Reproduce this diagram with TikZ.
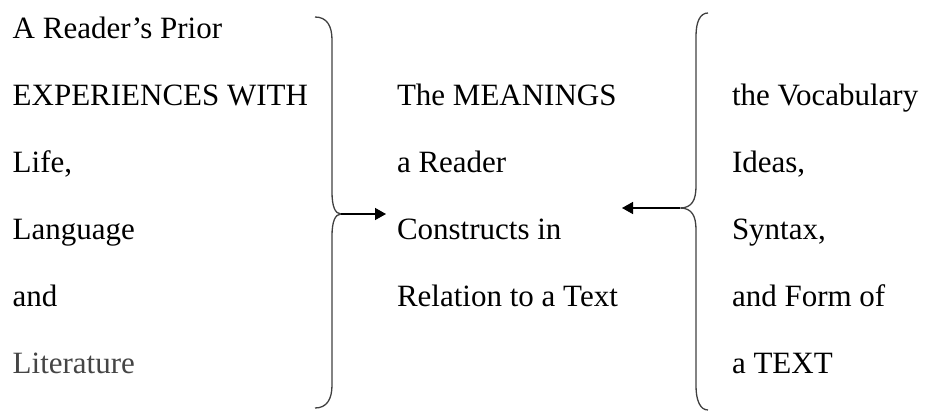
\documentclass[tikz,border=0pt]{standalone}
\usepackage{fontspec}
\setmainfont{Liberation Serif}
\usetikzlibrary{arrows.meta}
\definecolor{bracecol}{rgb}{0.25,0.25,0.25}
\definecolor{greytext}{rgb}{0.27,0.27,0.27}
\begin{document}
\begin{tikzpicture}[x=1pt,y=-1pt,
  txt/.style={anchor=base west,inner sep=0pt,outer sep=0pt,font=\fontsize{31}{37}\selectfont},
  bracepath/.style={draw=bracecol,line width=1.3pt},
  arr/.style={draw=black,line width=1.4pt,-{Triangle[length=11pt,width=12pt]}}]
\useasboundingbox (0,0) rectangle (928,412);
% left column
\node[txt] (l1) at (12.7,38) {A Reader’s Prior};
\node[txt] (l2) at (12.7,105) {EXPERIENCES WITH};
\node[txt] (l3) at (12.7,172) {Life,};
\node[txt] (l4) at (12.7,239) {Language};
\node[txt] (l5) at (12.7,306) {and};
\node[txt,text=greytext] (l6) at (12.7,373) {Literature};
% middle column
\node[txt] (m1) at (397,105) {The MEANINGS};
\node[txt] (m2) at (397,172) {a Reader};
\node[txt] (m3) at (397,239) {Constructs in};
\node[txt] (m4) at (397,306) {Relation to a Text};
% right column
\node[txt] (r1) at (732,105) {the Vocabulary};
\node[txt] (r2) at (732,172) {Ideas,};
\node[txt] (r3) at (732,239) {Syntax,};
\node[txt] (r4) at (732,306) {and Form of};
\node[txt] (r5) at (732,373) {a TEXT};
% braces
\coordinate (ltip) at (341,214);
\coordinate (lend) at (386,214);
\coordinate (rtip) at (680,208);
\coordinate (rend) at (622,208);
\draw[bracepath] (315,17) .. controls (327,17) and (332,26) .. (332,40)
  -- (332,192) .. controls (332,206) and (335,214) .. (ltip)
  .. controls (335,214) and (332,222) .. (332,236)
  -- (332,385) .. controls (332,399) and (327,408) .. (315,408);
\draw[bracepath] (708,13) .. controls (700,13) and (696,22) .. (696,36)
  -- (696,186) .. controls (696,200) and (692,208) .. (rtip)
  .. controls (692,208) and (696,216) .. (696,230)
  -- (696,386) .. controls (696,400) and (700,410) .. (708,410);
% arrows
\draw[arr] (ltip) -- (lend);
\draw[arr] (rtip) -- (rend);
\end{tikzpicture}
\end{document}
